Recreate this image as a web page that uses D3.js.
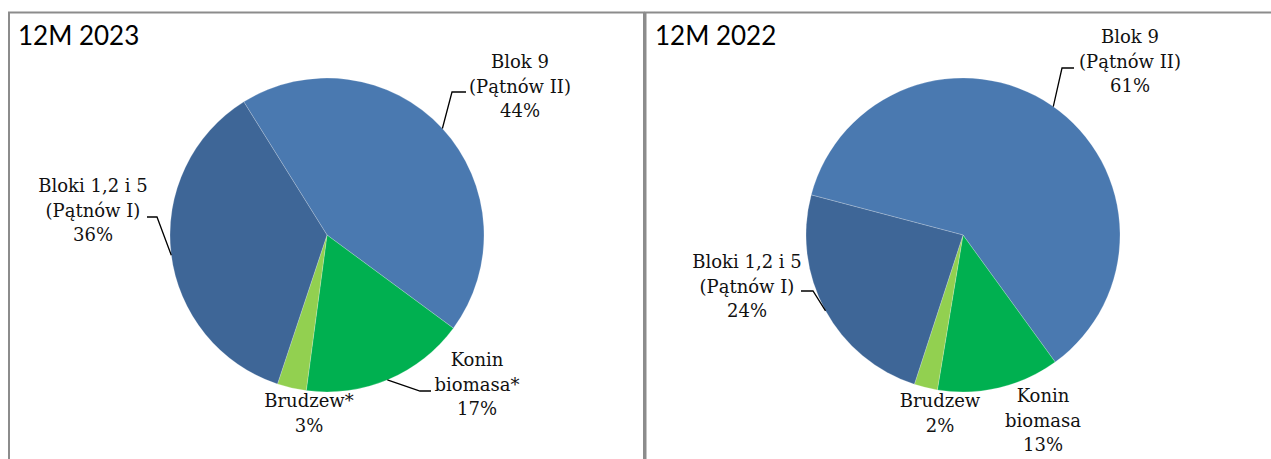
<!DOCTYPE html>
<html>
<head>
<meta charset="utf-8">
<script src="https://cdn.jsdelivr.net/npm/d3@7"></script>
<style>
  body { margin: 0; background: #fff; }
  svg { display: block; }
</style>
</head>
<body>
<div id="chart"></div>
<script>
// data
const titles = ["12M 2023", "12M 2022"];
const categories2023 = [["Blok 9", "(Pątnów II)"], ["Konin", "biomasa*"], ["Brudzew*"], ["Bloki 1,2 i 5", "(Pątnów I)"]];
const categories2022 = [["Blok 9", "(Pątnów II)"], ["Konin", "biomasa"], ["Brudzew"], ["Bloki 1,2 i 5", "(Pątnów I)"]];
const values2023 = [44, 17, 3, 36];
const values2022 = [60.9, 12.6, 2.4, 24.1];

const sliceColors = ["#4a79b0", "#00b050", "#92d050", "#3e6697"];

const width = 1271, height = 459;
const svg = d3.select("#chart").append("svg")
    .attr("width", width)
    .attr("height", height);

// panel borders
svg.append("rect")
    .attr("x", 9).attr("y", 12.5)
    .attr("width", 635).attr("height", 470)
    .attr("fill", "none").attr("stroke", "#8c8c8c").attr("stroke-width", 2);
svg.append("rect")
    .attr("x", 645.5).attr("y", 12.5)
    .attr("width", 640).attr("height", 470)
    .attr("fill", "none").attr("stroke", "#8c8c8c").attr("stroke-width", 2);

const radius = 157;

// label placement per chart: text centre x, first baseline, leader elbow + angle on rim
const panels = [
  {
    title: titles[0], titleX: 18, cx: 327, cy: 235, start: -32,
    names: categories2023, values: values2023,
    labels: [
      { x: 520, y: 68, leader: [[466, 92], [452, 92]], rim: 47.3 },
      { x: 477, y: 366, leader: [[431, 391], [420, 391]], rim: 157.4 },
      { x: 309, y: 407 },
      { x: 93, y: 192, leader: [[147, 217], [157, 217]], rim: 262.6 }
    ]
  },
  {
    title: titles[1], titleX: 655, cx: 963, cy: 235, start: -75.2,
    names: categories2022, values: values2022,
    labels: [
      { x: 1130, y: 43, leader: [[1074, 68], [1062, 68]], rim: 35.1 },
      { x: 1043, y: 402 },
      { x: 940, y: 407 },
      { x: 747, y: 268, leader: [[801, 291], [813, 291]], rim: 241.1 }
    ]
  }
];

const arc = d3.arc().innerRadius(0).outerRadius(radius);
const lineHeight = 24.5;

panels.forEach(function (p) {
    const pie = d3.pie().sort(null)
        .startAngle(p.start * Math.PI / 180)
        .endAngle((p.start + 360) * Math.PI / 180);
    const total = d3.sum(p.values);

    svg.append("text")
        .attr("x", p.titleX).attr("y", 45)
        .attr("font-family", "Lato, 'Open Sans', sans-serif")
        .attr("font-size", 26)
        .attr("fill", "#000")
        .text(p.title);

    const g = svg.append("g")
        .attr("transform", `translate(${p.cx},${p.cy})`);

    g.selectAll("path")
        .data(pie(p.values))
        .enter()
        .append("path")
        .attr("d", arc)
        .attr("fill", (d, i) => sliceColors[i])
        .attr("stroke", "#ffffff")
        .attr("stroke-opacity", 0.35)
        .attr("stroke-width", 0.6);

    p.labels.forEach(function (lab, i) {
        const lines = p.names[i].concat([Math.round(p.values[i] / total * 100) + "%"]);
        const t = svg.append("text")
            .attr("font-family", "'DejaVu Serif', serif")
            .attr("font-size", 18)
            .attr("fill", "#111")
            .attr("text-anchor", "middle");
        lines.forEach(function (ln, k) {
            t.append("tspan")
                .attr("x", lab.x)
                .attr("y", lab.y + k * lineHeight)
                .text(ln);
        });

        if (lab.leader) {
            const a = lab.rim * Math.PI / 180;
            const rimPt = [p.cx + radius * Math.sin(a), p.cy - radius * Math.cos(a)];
            svg.append("path")
                .attr("d", d3.line()(lab.leader.concat([rimPt])))
                .attr("fill", "none")
                .attr("stroke", "#000")
                .attr("stroke-width", 1.3);
        }
    });
});
</script>
</body>
</html>
